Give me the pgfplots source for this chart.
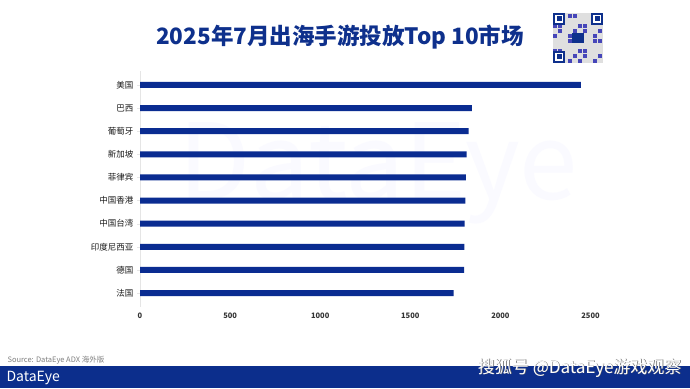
\documentclass[border=0pt]{standalone}
\usepackage{pgfplots}
\pgfplotsset{compat=1.18}
\usepackage{fontspec}
\setmainfont{Noto Sans CJK SC}
\definecolor{navy}{RGB}{14,48,140}
\definecolor{barblue}{RGB}{10,44,145}
\definecolor{bandblue}{RGB}{12,46,140}
\begin{document}
\begin{tikzpicture}[x=1pt,y=1pt]
\useasboundingbox (0,0) rectangle (690,388);
\fill[white] (0,0) rectangle (690,388);
% faint background watermark
\node[text=blue!2!white, font=\fontsize{105}{105}\selectfont] at (378,215) {DataEye};
% title
\node[text=navy, font=\fontsize{22.5}{24}\selectfont\bfseries] at (340,350.5) {2025年7月出海手游投放Top 10市场};
% QR placeholder
\begin{scope}[shift={(553,325)}]
\fill[gray!25] (0,0) rectangle (50,50);
\foreach \i in {0,...,9}{\foreach \j in {0,...,9}{
  \pgfmathtruncatemacro{\v}{mod(\i*7+\j*13+\i*\j,5)}
  \ifnum\v<2 \fill[blue!45!gray] (\i*5,\j*5) rectangle ++(4,4);\fi}}
\foreach \px/\py in {0/0,0/38,38/38}{
  \fill[white] (\px,\py) rectangle ++(12,12);
  \draw[navy,line width=1.6] (\px+1,\py+1) rectangle ++(10,10);
  \fill[navy] (\px+3.5,\py+3.5) rectangle ++(5,5);}
\fill[navy] (19,20) rectangle (31,30);
\end{scope}
\begin{axis}[
  at={(140pt,81.1pt)}, anchor=south west,
  scale only axis, width=450.5pt, height=235.8pt,
  xmin=0, xmax=2500, ymin=-0.6, ymax=9.6,
  xbar, bar width=6pt,
  axis lines*=left, axis line style={-},
  x axis line style={draw=none},
  y axis line style={draw=gray!20},
  xtick={0,500,1000,1500,2000,2500},
  xtick style={draw=none},
  ytick={0,...,9},
  yticklabels={法国,德国,印度尼西亚,中国台湾,中国香港,菲律宾,新加坡,葡萄牙,巴西,美国},
  ytick style={draw=gray!20},
  tick align=outside, major tick length=3pt,
  /pgf/number format/assume math mode=true,
  /pgf/number format/set thousands separator={},
  xticklabel style={font=\fontsize{7.5}{8}\selectfont\bfseries, text=black!80},
  yticklabel style={font=\fontsize{8.5}{9}\selectfont, text=black!90},
  clip=false,
]
\addplot[fill=barblue, draw=none] coordinates {
(1741,0) (1798,1) (1800,2) (1802,3) (1806,4) (1809,5) (1813,6) (1824,7) (1841,8) (2446,9)};
\end{axis}
% footer
\node[anchor=west, text=gray, font=\fontsize{7.5}{8}\selectfont] at (4,28) {Source: DataEye ADX 海外版};
\fill[bandblue] (0,0) rectangle (690,22);
\node[anchor=west, text=white, font=\fontsize{14}{14}\selectfont] at (3,10) {DataEye};
\node[anchor=east, text=black!60, font=\fontsize{17}{17}\selectfont] at (685.6,19.4) {搜狐号 @DataEye游戏观察};
\node[anchor=east, text=white, font=\fontsize{17}{17}\selectfont] at (685,20) {搜狐号 @DataEye游戏观察};
\end{tikzpicture}
\end{document}
